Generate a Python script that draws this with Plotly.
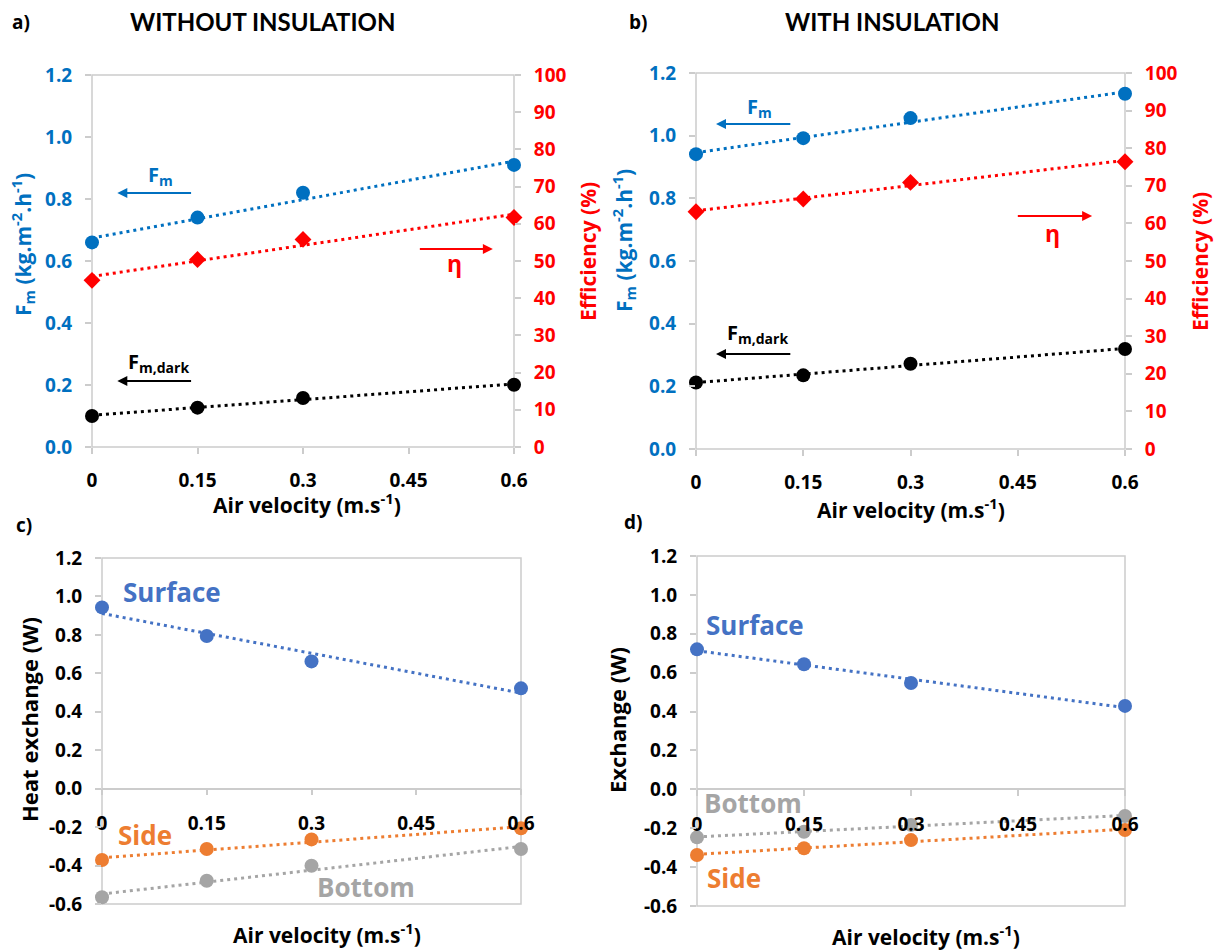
import numpy as np
import plotly.graph_objects as go

# ---------------- data ----------------
velocity = [0, 0.15, 0.3, 0.6]
x_ticks = [0, 0.15, 0.3, 0.45, 0.6]
x_ticktext = ["0", "0.15", "0.3", "0.45", "0.6"]

a_fm = [0.66, 0.74, 0.82, 0.91]
a_eff = [44.8, 50.4, 55.8, 61.7]
a_dark = [0.100, 0.127, 0.158, 0.201]

b_fm = [0.941, 0.992, 1.056, 1.134]
b_eff = [63.1, 66.5, 70.9, 76.4]
b_dark = [0.212, 0.235, 0.272, 0.319]

c_surface = [0.943, 0.794, 0.662, 0.522]
c_side = [-0.371, -0.314, -0.264, -0.206]
c_bottom = [-0.565, -0.479, -0.401, -0.314]

d_surface = [0.720, 0.643, 0.547, 0.429]
d_side = [-0.338, -0.303, -0.261, -0.209]
d_bottom = [-0.247, -0.218, -0.183, -0.137]

fm_ticks = [0, 0.2, 0.4, 0.6, 0.8, 1.0, 1.2]
fm_ticktext = ["0.0", "0.2", "0.4", "0.6", "0.8", "1.0", "1.2"]
eff_ticks = [0, 10, 20, 30, 40, 50, 60, 70, 80, 90, 100]
heat_ticks = [-0.6, -0.4, -0.2, 0, 0.2, 0.4, 0.6, 0.8, 1.0, 1.2]
heat_ticktext = ["-0.6", "-0.4", "-0.2", "0.0", "0.2", "0.4", "0.6", "0.8", "1.0", "1.2"]

# ---------------- style ----------------
FONT = "'Open Sans', Lato, sans-serif"
TFONT = "Lato, 'Open Sans', sans-serif"
BLUE = "#0070C0"
RED = "#FF0000"
BLACK = "#000000"
SURF = "#4472C4"
SIDE = "#ED7D31"
BOTT = "#A5A5A5"
FRAME = "#CCCCCC"
W, H = 1215, 951


def px_x(p):
    return p / W


def px_y(p):
    return 1 - p / H


fig = go.Figure()


def add_series(xa, ya, yvals, color, symbol, size=14):
    coef = np.polyfit(velocity, yvals, 1)
    xs = [0, 0.6]
    ys = list(np.polyval(coef, xs))
    fig.add_trace(go.Scatter(x=xs, y=ys, mode="lines", xaxis=xa, yaxis=ya,
                             line=dict(color=color, width=3, dash="3px,4px"),
                             hoverinfo="skip", showlegend=False, cliponaxis=False))
    fig.add_trace(go.Scatter(x=velocity, y=yvals, mode="markers", xaxis=xa, yaxis=ya,
                             marker=dict(color=color, symbol=symbol, size=size),
                             showlegend=False, cliponaxis=False))


# panel a
add_series("x", "y", a_fm, BLUE, "circle")
add_series("x", "y", a_dark, BLACK, "circle")
add_series("x", "y2", a_eff, RED, "diamond", 13)
# panel b
add_series("x2", "y3", b_fm, BLUE, "circle")
add_series("x2", "y3", b_dark, BLACK, "circle")
add_series("x2", "y4", b_eff, RED, "diamond", 13)
# panel c
add_series("x3", "y5", c_surface, SURF, "circle")
add_series("x3", "y5", c_side, SIDE, "circle")
add_series("x3", "y5", c_bottom, BOTT, "circle")
# panel d
add_series("x4", "y6", d_surface, SURF, "circle")
add_series("x4", "y6", d_bottom, BOTT, "circle")
add_series("x4", "y6", d_side, SIDE, "circle")

# domains
dom = {
    "a": ([px_x(92), px_x(514)], [px_y(447), px_y(75)]),
    "b": ([px_x(696), px_x(1125)], [px_y(449), px_y(73)]),
    "c": ([px_x(102), px_x(521)], [px_y(904), px_y(558)]),
    "d": ([px_x(697), px_x(1125)], [px_y(906), px_y(556)]),
}

TICK_SIZE = 19
tickfont = dict(family=FONT, size=TICK_SIZE, color=BLACK, weight="bold")


def xax(domain, anchor, position=None, showline=False):
    d = dict(domain=domain, range=[0, 0.6], tickvals=x_ticks, ticktext=x_ticktext,
             ticks="outside", ticklen=6, tickcolor=FRAME, tickwidth=1.5,
             showgrid=False, zeroline=False, showline=showline, linecolor=FRAME,
             linewidth=1.5, tickfont=tickfont, ticklabelstandoff=8, automargin=False)
    if position is not None:
        d["anchor"] = "free"
        d["position"] = position
    else:
        d["anchor"] = anchor
    return d


def yax(domain, anchor, rng, vals, text, color, side="left", overlaying=None):
    d = dict(domain=domain, anchor=anchor, range=rng, tickvals=vals, ticktext=text,
             ticks="outside", ticklen=6, tickcolor=FRAME, tickwidth=1.5,
             showgrid=False, zeroline=False, showline=False, side=side,
             tickfont=dict(family=FONT, size=TICK_SIZE, color=color, weight="bold"),
             ticklabelstandoff=9, automargin=False)
    if overlaying:
        d["overlaying"] = overlaying
        d.pop("domain")
    return d


ca = dom["c"][1]
da = dom["d"][1]
fig.update_layout(
    xaxis=xax(dom["a"][0], "y"),
    yaxis=yax(dom["a"][1], "x", [0, 1.2], fm_ticks, fm_ticktext, BLUE),
    yaxis2=yax(dom["a"][1], "x", [0, 100], eff_ticks, [str(v) for v in eff_ticks], RED,
               side="right", overlaying="y"),
    xaxis2=xax(dom["b"][0], "y3"),
    yaxis3=yax(dom["b"][1], "x2", [0, 1.2], fm_ticks, fm_ticktext, BLUE),
    yaxis4=yax(dom["b"][1], "x2", [0, 100], eff_ticks, [str(v) for v in eff_ticks], RED,
               side="right", overlaying="y3"),
    xaxis3=xax(dom["c"][0], None, position=ca[0] + (ca[1] - ca[0]) / 3, showline=True),
    yaxis5=yax(dom["c"][1], "x3", [-0.6, 1.2], heat_ticks, heat_ticktext, BLACK),
    xaxis4=xax(dom["d"][0], None, position=da[0] + (da[1] - da[0]) / 3, showline=True),
    yaxis6=yax(dom["d"][1], "x4", [-0.6, 1.2], heat_ticks, heat_ticktext, BLACK),
)
fig.layout.xaxis3.ticklabelstandoff = 12
fig.layout.xaxis4.ticklabelstandoff = 12
fig.layout.xaxis.ticklabelstandoff = 10
fig.layout.xaxis2.ticklabelstandoff = 10

# frames
shapes = []
for xr, yr in [("x", "y"), ("x2", "y3"), ("x3", "y5"), ("x4", "y6")]:
    shapes.append(dict(type="rect", xref=f"{xr} domain", yref=f"{yr} domain",
                       x0=0, x1=1, y0=0, y1=1, line=dict(color=FRAME, width=1.5),
                       layer="below"))
fig.update_layout(shapes=shapes)

ann = []


def txt(x, y, text, size=18, color=BLACK, angle=0, xanchor="center", family=FONT):
    ann.append(dict(x=px_x(x), y=px_y(y), xref="paper", yref="paper", text=text,
                    showarrow=False, textangle=angle, xanchor=xanchor, yanchor="middle",
                    font=dict(family=family, size=size, color=color, weight="bold")))


# panel titles
txt(10, 22, "a)", 19, xanchor="left")
txt(262, 22, "WITHOUT INSULATION", 24, family=TFONT)
txt(627, 22, "b)", 19, xanchor="left")
txt(892, 22, "WITH INSULATION", 24, family=TFONT)
txt(14, 525, "c)", 19, xanchor="left")
txt(622, 522, "d)", 19, xanchor="left")

# axis titles
fm_title = "F<sub>m</sub> (kg.m<sup>-2</sup>.h<sup>-1</sup>)"
AX = "Air velocity (m.s<sup>-1</sup>)"
txt(307, 503, AX, 21)
txt(911, 508, AX, 21)
txt(327, 933, AX, 21)
txt(926, 935, AX, 21)
txt(23, 245, fm_title, 21, BLUE, -90)
txt(588, 252, "Efficiency (%)", 21, RED, -90)
txt(624, 241, fm_title, 21, BLUE, -90)
txt(1200, 262, "Efficiency (%)", 21, RED, -90)
txt(29, 720, "Heat exchange (W)", 22, BLACK, -90)
txt(617, 720, "Exchange (W)", 22, BLACK, -90)


def arrow(xr, yr, x_head, x_tail, y, color):
    ann.append(dict(x=x_head, y=y, ax=x_tail, ay=y, xref=xr, yref=yr, axref=xr, ayref=yr,
                    text="", showarrow=True, arrowhead=2, arrowsize=1, arrowwidth=2,
                    arrowcolor=color))


def label(xr, yr, x, y, text, color, size=20):
    ann.append(dict(x=x, y=y, xref=xr, yref=yr, text=text, showarrow=False,
                    xanchor="center", yanchor="middle",
                    font=dict(family=FONT, size=size, color=color, weight="bold")))


# panel a arrows
arrow("x", "y", 0.036, 0.143, 0.819, BLUE)
label("x", "y", 0.098, 0.875, "F<sub>m</sub>", BLUE)
arrow("x", "y", 0.570, 0.464, 0.639, RED)
label("x", "y", 0.516, 0.595, "η", RED, 23)
arrow("x", "y", 0.036, 0.143, 0.213, BLACK)
label("x", "y", 0.095, 0.272, "F<sub>m,dark</sub>", BLACK)
# panel b arrows
arrow("x2", "y3", 0.028, 0.134, 1.037, BLUE)
label("x2", "y3", 0.089, 1.09, "F<sub>m</sub>", BLUE)
arrow("x2", "y3", 0.554, 0.448, 0.744, RED)
label("x2", "y3", 0.499, 0.69, "η", RED, 23)
arrow("x2", "y3", 0.028, 0.134, 0.303, BLACK)
label("x2", "y3", 0.086, 0.37, "F<sub>m,dark</sub>", BLACK)
# panel c labels
label("x3", "y5", 0.10, 1.025, "Surface", SURF, 26)
label("x3", "y5", 0.062, -0.24, "Side", SIDE, 26)
label("x3", "y5", 0.378, -0.51, "Bottom", BOTT, 26)
# panel d labels
label("x4", "y6", 0.081, 0.845, "Surface", SURF, 26)
label("x4", "y6", 0.078, -0.07, "Bottom", BOTT, 26)
label("x4", "y6", 0.052, -0.456, "Side", SIDE, 26)

fig.update_layout(annotations=ann, width=W, height=H, autosize=False,
                  margin=dict(l=0, r=0, t=0, b=0, pad=0, autoexpand=False),
                  paper_bgcolor="white", plot_bgcolor="white",
                  font=dict(family=FONT), showlegend=False)

fig.write_html("out.html", config={"displayModeBar": False},
               post_script="document.body.style.margin='0';document.body.style.overflow='hidden';")
